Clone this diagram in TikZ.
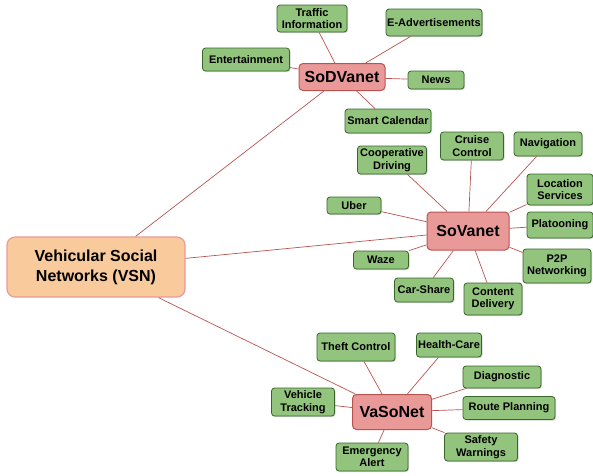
\documentclass[tikz,border=0pt]{standalone}
\usepackage{fontspec}
\setmainfont{Liberation Sans}
\usetikzlibrary{shadows}
\definecolor{vsnpeach}{RGB}{249,203,156}
\definecolor{vsnpink}{RGB}{234,153,153}
\definecolor{vsnredline}{RGB}{184,84,80}
\definecolor{vsngreen}{RGB}{147,196,125}
\definecolor{vsngreenline}{RGB}{56,102,40}

\begin{document}
\begin{tikzpicture}[
  x=1pt, y=-1pt,
  root/.style={rectangle, rounded corners=8pt, draw=vsnpink, fill=vsnpeach,
    line width=1.2pt, minimum width=178pt, minimum height=60pt,
    font=\fontsize{16}{20}\selectfont\bfseries, align=center},
  hub/.style={rectangle, rounded corners=4pt, draw=vsnredline, fill=vsnpink,
    line width=1pt, inner sep=1pt, font=\fontsize{16}{19}\selectfont\bfseries,
    align=center},
  leaf/.style={rectangle, rounded corners=3pt, draw=vsngreenline, fill=vsngreen,
    line width=0.8pt, inner sep=1pt, font=\fontsize{11}{12.5}\selectfont\bfseries,
    align=center, drop shadow={shadow xshift=1pt, shadow yshift=-1pt, opacity=0.35}},
  link/.style={draw=vsnredline, line width=0.7pt}
]
\useasboundingbox (0,0) rectangle (593,475);

% Root and hubs
\node[root] (vsn) at (96,267) {Vehicular Social\\Networks (VSN)};
\node[hub, minimum width=86pt, minimum height=27pt] (sodv) at (342,77) {SoDVanet};
\node[hub, minimum width=82pt, minimum height=38pt] (sov) at (468,231) {SoVanet};
\node[hub, minimum width=79pt, minimum height=35pt] (vaso) at (392,412) {VaSoNet};

% SoDVanet services
\node[leaf, minimum width=70pt, minimum height=27pt] (traffic) at (312,18.5) {Traffic\\Information};
\node[leaf, minimum width=96pt, minimum height=27pt] (eads) at (434,22.5) {E-Advertisements};
\node[leaf, minimum width=87pt, minimum height=23pt] (enter) at (246,59.5) {Entertainment};
\node[leaf, minimum width=56pt, minimum height=18pt] (news) at (436,80) {News};
\node[leaf, minimum width=86pt, minimum height=24pt] (calendar) at (388,121) {Smart Calendar};

% SoVanet services
\node[leaf, minimum width=63pt, minimum height=28pt] (cruise) at (472,146) {Cruise\\Control};
\node[leaf, minimum width=68pt, minimum height=24pt] (navi) at (548,144) {Navigation};
\node[leaf, minimum width=69pt, minimum height=28pt] (coop) at (392,160) {Cooperative\\Driving};
\node[leaf, minimum width=66pt, minimum height=31pt] (location) at (560,189.5) {Location\\Services};
\node[leaf, minimum width=54pt, minimum height=17pt] (uber) at (354,205.5) {Uber};
\node[leaf, minimum width=66pt, minimum height=26pt] (platoon) at (560,225) {Platooning};
\node[leaf, minimum width=55pt, minimum height=18pt] (waze) at (381,260) {Waze};
\node[leaf, minimum width=68pt, minimum height=34pt] (ptp) at (557,266) {P2P\\Networking};
\node[leaf, minimum width=59pt, minimum height=24pt] (carshare) at (424,290) {Car-Share};
\node[leaf, minimum width=58pt, minimum height=32pt] (content) at (493,299) {Content\\Delivery};

% VaSoNet services
\node[leaf, minimum width=78pt, minimum height=28pt] (theft) at (356,347) {Theft Control};
\node[leaf, minimum width=65pt, minimum height=24pt] (health) at (449,345) {Health-Care};
\node[leaf, minimum width=78pt, minimum height=22pt] (diag) at (502,377) {Diagnostic};
\node[leaf, minimum width=63pt, minimum height=28pt] (tracking) at (303,402) {Vehicle\\Tracking};
\node[leaf, minimum width=92pt, minimum height=23pt] (route) at (509,408) {Route Planning};
\node[leaf, minimum width=73pt, minimum height=28pt] (safety) at (481,447) {Safety\\Warnings};
\node[leaf, minimum width=72pt, minimum height=28pt] (emerg) at (372,457) {Emergency\\Alert};

% Links
\path[link] (vsn) -- (sodv);
\path[link] (vsn) -- (sov);
\path[link] (vsn) -- (vaso);
\foreach \s in {traffic,eads,enter,news,calendar}
  \path[link] (sodv) -- (\s);
\foreach \s in {cruise,navi,coop,location,uber,platoon,waze,ptp,carshare,content}
  \path[link] (sov) -- (\s);
\foreach \s in {theft,health,diag,tracking,route,safety,emerg}
  \path[link] (vaso) -- (\s);

\end{tikzpicture}
\end{document}
